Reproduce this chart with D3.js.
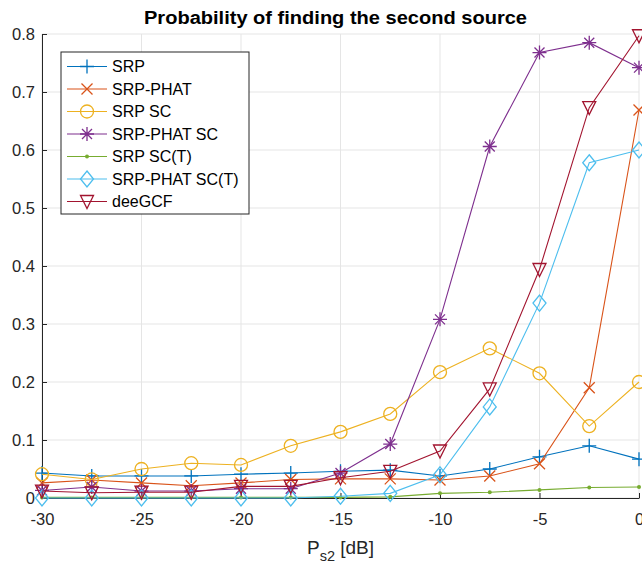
<!DOCTYPE html>
<html>
<head>
<meta charset="utf-8">
<script src="https://cdn.jsdelivr.net/npm/d3@7"></script>
<style>
  body { margin: 0; background: #fff; }
  text { font-family: "Liberation Sans", Arial, sans-serif; }
</style>
</head>
<body>
<div id="chart"></div>
<script>
// x positions in dB
const powers = [-30, -27.5, -25, -22.5, -20, -17.5, -15, -12.5, -10, -7.5, -5, -2.5, 0];

const srp         = [0.043, 0.038, 0.038, 0.038, 0.041, 0.043, 0.046, 0.048, 0.038, 0.050, 0.071, 0.090, 0.067];
const srpPhat     = [0.026, 0.031, 0.026, 0.021, 0.026, 0.032, 0.033, 0.033, 0.031, 0.038, 0.059, 0.190, 0.669];
const srpSc       = [0.041, 0.032, 0.050, 0.060, 0.057, 0.090, 0.114, 0.145, 0.217, 0.258, 0.215, 0.124, 0.200];
const srpPhatSc   = [0.013, 0.019, 0.012, 0.012, 0.016, 0.016, 0.043, 0.093, 0.308, 0.606, 0.768, 0.785, 0.742];
const srpScT      = [0.001, 0.001, 0.001, 0.001, 0.001, 0.001, 0.001, 0.002, 0.008, 0.010, 0.014, 0.018, 0.019];
const srpPhatScT  = [0.000, 0.000, 0.000, 0.000, 0.000, 0.000, 0.003, 0.008, 0.040, 0.157, 0.336, 0.578, 0.600];
const deeGcf      = [0.012, 0.009, 0.010, 0.010, 0.020, 0.020, 0.035, 0.046, 0.081, 0.188, 0.394, 0.673, 0.797];

const xTicks = [-30, -25, -20, -15, -10, -5, 0];
const yTicks = [0, 0.1, 0.2, 0.3, 0.4, 0.5, 0.6, 0.7, 0.8];

const series = [
  { name: "SRP",             values: srp,        color: "#0072BD", marker: "plus" },
  { name: "SRP-PHAT",        values: srpPhat,    color: "#D95319", marker: "cross" },
  { name: "SRP SC",          values: srpSc,      color: "#EDB120", marker: "circle" },
  { name: "SRP-PHAT SC",     values: srpPhatSc,  color: "#7E2F8E", marker: "star" },
  { name: "SRP SC(T)",       values: srpScT,     color: "#77AC30", marker: "dot" },
  { name: "SRP-PHAT SC(T)",  values: srpPhatScT, color: "#4DBEEE", marker: "diamond" },
  { name: "deeGCF",          values: deeGcf,     color: "#A2142F", marker: "triangle" }
];

const width = 642, height = 563;
const margin = { left: 42, right: 3, top: 34, bottom: 65 };

const svg = d3.select("#chart").append("svg")
    .attr("width", width)
    .attr("height", height);

const x = d3.scaleLinear().domain([-30, 0]).range([margin.left, width - margin.right]);
const y = d3.scaleLinear().domain([0, 0.8]).range([height - margin.bottom, margin.top]);

// grid
const grid = svg.append("g");
grid.selectAll("line.gx").data(xTicks).enter().append("line")
    .attr("x1", d => x(d)).attr("x2", d => x(d))
    .attr("y1", y(0)).attr("y2", y(0.8))
    .attr("stroke", "#e5e5e5").attr("stroke-width", 1);
grid.selectAll("line.gy").data(yTicks).enter().append("line")
    .attr("x1", x(-30)).attr("x2", x(0))
    .attr("y1", d => y(d)).attr("y2", d => y(d))
    .attr("stroke", "#e5e5e5").attr("stroke-width", 1);

// axes, ticks pointing inward; plain hyphen for negatives
const xAxis = svg.append("g")
    .attr("transform", `translate(0,${y(0)})`)
    .call(d3.axisBottom(x).tickValues(xTicks).tickSizeInner(-5).tickSizeOuter(0).tickPadding(15)
      .tickFormat(d => String(d)));
const yAxis = svg.append("g")
    .attr("transform", `translate(${x(-30)},0)`)
    .call(d3.axisLeft(y).tickValues(yTicks).tickSizeInner(-5).tickSizeOuter(0).tickPadding(7)
      .tickFormat(d => d === 0 ? "0" : d.toFixed(1)));

[xAxis, yAxis].forEach(a => {
  a.select(".domain").attr("stroke", "#262626");
  a.selectAll(".tick line").attr("stroke", "#262626");
  a.selectAll(".tick text").attr("fill", "#262626")
    .style("font-size", "16.5px").style("font-family", "'Liberation Sans', Arial, sans-serif");
});

// marker shapes
function drawMarker(g, type, color) {
  const s = 7;
  if (type === "plus") {
    g.append("path").attr("d", `M${-s},0H${s}M0,${-s}V${s}`)
      .attr("stroke", color).attr("stroke-width", 1.3).attr("fill", "none");
  } else if (type === "cross") {
    const c = 5.5;
    g.append("path").attr("d", `M${-c},${-c}L${c},${c}M${-c},${c}L${c},${-c}`)
      .attr("stroke", color).attr("stroke-width", 1.3).attr("fill", "none");
  } else if (type === "circle") {
    g.append("circle").attr("r", 6.5)
      .attr("stroke", color).attr("stroke-width", 1.3).attr("fill", "none");
  } else if (type === "star") {
    const c = 5;
    g.append("path").attr("d", `M${-s},0H${s}M0,${-s}V${s}M${-c},${-c}L${c},${c}M${-c},${c}L${c},${-c}`)
      .attr("stroke", color).attr("stroke-width", 1.3).attr("fill", "none");
  } else if (type === "dot") {
    g.append("circle").attr("r", 2).attr("fill", color);
  } else if (type === "diamond") {
    g.append("path").attr("d", `M0,${-8}L${6.5},0L0,${8}L${-6.5},0Z`)
      .attr("stroke", color).attr("stroke-width", 1.3).attr("fill", "none");
  } else if (type === "triangle") {
    g.append("path").attr("d", `M${-6.5},${-6}L${6.5},${-6}L0,${7}Z`)
      .attr("stroke", color).attr("stroke-width", 1.3).attr("fill", "none");
  }
}

const line = d3.line().x((d, i) => x(powers[i])).y(d => y(d));

const plot = svg.append("g");
series.forEach(s => {
  const g = plot.append("g");
  g.append("path").datum(s.values)
    .attr("d", line)
    .attr("fill", "none")
    .attr("stroke", s.color)
    .attr("stroke-width", 1.1);
  s.values.forEach((v, i) => {
    const m = g.append("g").attr("transform", `translate(${x(powers[i])},${y(v)})`);
    drawMarker(m, s.marker, s.color);
  });
});

// legend
const legend = svg.append("g").attr("transform", "translate(61,52)");
legend.append("rect")
    .attr("width", 188).attr("height", 162)
    .attr("fill", "#fff").attr("stroke", "#262626").attr("stroke-width", 1);
series.forEach((s, i) => {
  const row = legend.append("g").attr("transform", `translate(0,${14.5 + i * 22.5})`);
  row.append("line").attr("x1", 6).attr("x2", 46)
    .attr("stroke", s.color).attr("stroke-width", 1.1);
  drawMarker(row.append("g").attr("transform", "translate(26,0)"), s.marker, s.color);
  row.append("text").attr("x", 51).attr("y", 0).attr("dy", "0.36em")
    .style("font-size", "16px").attr("fill", "#000").text(s.name);
});

// title
svg.append("text")
    .attr("x", 335.5).attr("y", 23.5)
    .attr("text-anchor", "middle")
    .attr("textLength", 383).attr("lengthAdjust", "spacingAndGlyphs")
    .style("font-size", "17.5px").style("font-weight", "bold")
    .attr("fill", "#000")
    .text("Probability of finding the second source");

// x label with subscript
const xl = svg.append("text")
    .attr("x", x(-15)).attr("y", 554)
    .attr("text-anchor", "middle")
    .style("font-size", "19px").attr("fill", "#262626");
xl.append("tspan").text("P");
xl.append("tspan").attr("dy", 7).style("font-size", "14.5px").text("s2");
xl.append("tspan").attr("dy", -7).text(" [dB]");
</script>
</body>
</html>
